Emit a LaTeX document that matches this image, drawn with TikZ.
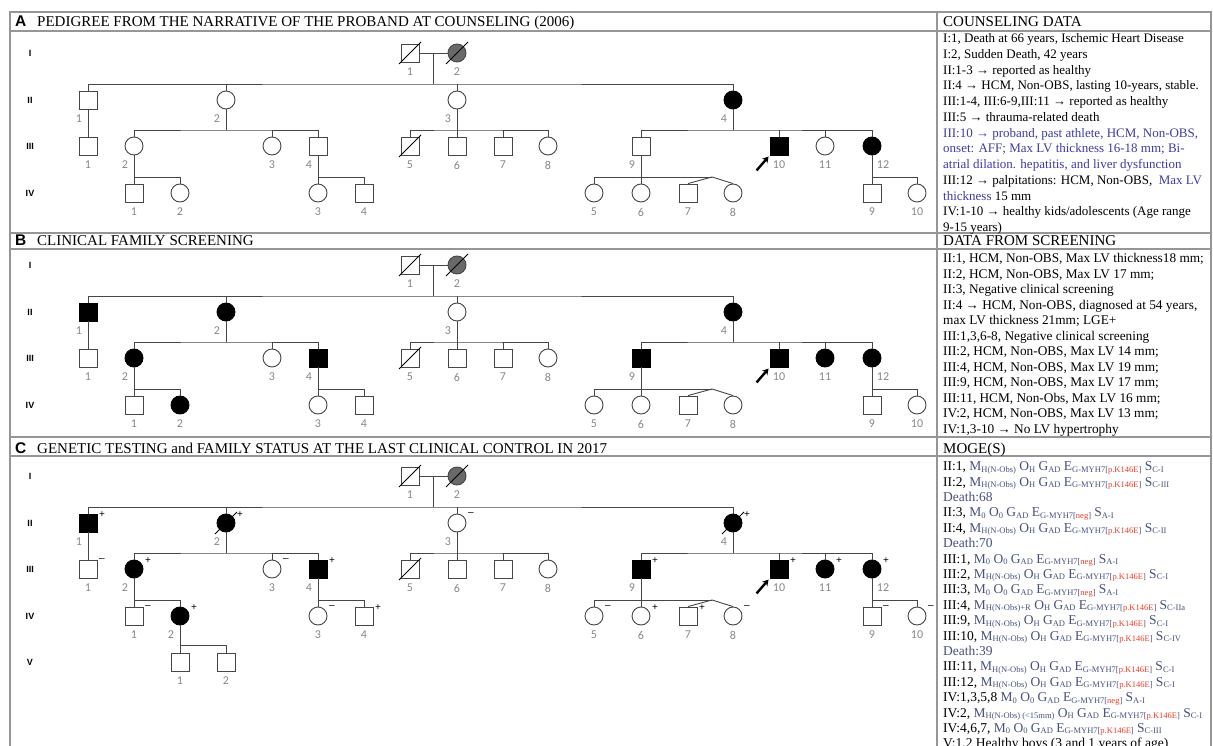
\documentclass[tikz,border=0pt]{standalone}
\usepackage{fontspec}
\setmainfont{Liberation Serif}
\setsansfont{Liberation Sans}
\newfontfamily\numfont{Carlito}
\usetikzlibrary{arrows.meta,calc}

\definecolor{pedline}{RGB}{70,70,70}
\definecolor{rulegray}{RGB}{150,150,150}
\definecolor{lblgray}{RGB}{135,135,135}
\definecolor{grandma}{RGB}{105,105,105}
\definecolor{noteblue}{RGB}{60,60,165}
\definecolor{mogeblue}{RGB}{70,80,125}
\definecolor{mutred}{RGB}{230,60,40}

% subscripts of the MOGE(S) notation
\newcommand{\sbx}[1]{\raisebox{-0.25ex}{\fontsize{8.5}{9}\selectfont #1}}
\newcommand{\moge}[5]{\textcolor{mogeblue}{M\sbx{#1} O\sbx{#2} G\sbx{#3} E\sbx{#4} S\sbx{#5}}}
\newcommand{\mutK}{[\textcolor{mutred}{p.K146E}]}
\newcommand{\mutN}{[\textcolor{mutred}{neg}]}

% the family tree shared by the three panels (#1 = panel prefix)
\newcommand{\pedtree}[1]{%
  % ── generation labels ──
  \node[gen] (#1-gI)   at (30,53)  {I};
  \node[gen] (#1-gII)  at (30,100) {II};
  \node[gen] (#1-gIII) at (30,146) {III};
  \node[gen] (#1-gIV)  at (30,193) {IV};

  % ── generation I ──
  \node[male, dec, num=1] (#1-I-1) at (410,53) {};
  \node[female, dec, fill=grandma, num=2] (#1-I-2) at (457,53) {};

  % ── generation II ──
  \node[male, numl=1, II-1]        (#1-II-1) at (88,100)  {};
  \node[female, numl=2, II-2]      (#1-II-2) at (226,100) {};
  \node[female, numl=3, II-3]      (#1-II-3) at (457,100) {};
  \node[female, aff, numl=4, II-4] (#1-II-4) at (733,100) {};

  % ── generation III ──
  \node[male, num=1, III-1]    (#1-III-1) at (88,146)  {};
  \node[female, numl=2, III-2] (#1-III-2) at (134,146) {};
  \node[female, num=3, III-3]  (#1-III-3) at (272,146) {};
  \node[male, numl=4, III-4]   (#1-III-4) at (318,146) {};
  \node[male, dec, num=5]      (#1-III-5) at (410,146) {};
  \node[male, num=6]           (#1-III-6) at (457,146) {};
  \node[male, num=7]           (#1-III-7) at (503,146) {};
  \node[female, num=8]         (#1-III-8) at (548,146) {};
  \node[male, numl=9, III-9]   (#1-III-9) at (641,146) {};
  \node[male, aff, num=10, III-10]     (#1-III-10) at (779,146) {};
  \node[female, num=11, III-11]        (#1-III-11) at (825,146) {};
  \node[female, aff, numr=12, III-12]  (#1-III-12) at (872,146) {};

  % ── generation IV ──
  \node[male, num=1, IV-1]     (#1-IV-1)  at (134,193) {};
  \node[female, IV-2]          (#1-IV-2)  at (180,193) {};
  \node[female, num=3, IV-3]   (#1-IV-3)  at (318,193) {};
  \node[male, num=4, IV-4]     (#1-IV-4)  at (364,193) {};
  \node[female, num=5, IV-5]   (#1-IV-5)  at (594,193) {};
  \node[female, num=6, IV-6]   (#1-IV-6)  at (641,193) {};
  \node[male, num=7, IV-7]     (#1-IV-7)  at (688,193) {};
  \node[female, num=8, IV-8]   (#1-IV-8)  at (733,193) {};
  \node[male, num=9, IV-9]     (#1-IV-9)  at (872,193) {};
  \node[female, num=10, IV-10] (#1-IV-10) at (917,193) {};

  % ── I -> II ──
  \coordinate (#1-mI) at (433,53);
  \coordinate (#1-sI) at (433,84);
  \draw[ln] (#1-I-1) -- (#1-I-2);
  \draw[ln] (#1-mI) -- (#1-sI);
  \draw[ln] (#1-II-1.north) |- (#1-sI) -| (#1-II-4.north);
  \draw[ln] (#1-II-2.north) -- (#1-II-2.north |- #1-sI);
  \draw[ln] (#1-II-3.north) -- (#1-II-3.north |- #1-sI);

  % ── II -> III ──
  \draw[ln] (#1-II-1) -- (#1-III-1);
  \coordinate (#1-sII2) at (226,130);
  \draw[ln] (#1-II-2) -- (#1-sII2);
  \draw[ln] (#1-III-2.north) |- (#1-sII2) -| (#1-III-4.north);
  \draw[ln] (#1-III-3.north) -- (#1-III-3.north |- #1-sII2);
  \coordinate (#1-sII3) at (457,130);
  \draw[ln] (#1-II-3) -- (#1-III-6);
  \draw[ln] (#1-III-5.north) |- (#1-sII3) -| (#1-III-8.north);
  \draw[ln] (#1-III-7.north) -- (#1-III-7.north |- #1-sII3);
  \coordinate (#1-sII4) at (733,130);
  \draw[ln] (#1-II-4) -- (#1-sII4);
  \draw[ln] (#1-III-9.north) |- (#1-sII4) -| (#1-III-12.north);
  \draw[ln] (#1-III-10.north) -- (#1-III-10.north |- #1-sII4);
  \draw[ln] (#1-III-11.north) -- (#1-III-11.north |- #1-sII4);

  % ── III -> IV ──
  \coordinate (#1-sIII2) at (134,177);
  \draw[ln] (#1-III-2) -- (#1-IV-1);
  \draw[ln] (#1-IV-2.north) |- (#1-sIII2);
  \coordinate (#1-sIII4) at (318,177);
  \draw[ln] (#1-III-4) -- (#1-IV-3);
  \draw[ln] (#1-IV-4.north) |- (#1-sIII4);
  \coordinate (#1-tw) at (712,177);
  \draw[ln] (#1-III-9) -- (#1-IV-6);
  \draw[ln] (#1-IV-5.north) |- (#1-tw);
  \draw[ln] (#1-IV-7.north) -- (#1-tw) -- (#1-IV-8.north);
  \coordinate (#1-sIII12) at (872,177);
  \draw[ln] (#1-III-12) -- (#1-IV-9);
  \draw[ln] (#1-IV-10.north) |- (#1-sIII12);

  % ── proband ──
  \coordinate (#1-pb) at ($(#1-III-10.south west)+(-13pt,-15pt)$);
  \draw[probarr] (#1-pb) -- (#1-III-10.south west);
}

\begin{document}
\begin{tikzpicture}[x=1pt, y=-1pt,
    ln/.style={draw=pedline, line width=0.9pt},
    rule/.style={draw=rulegray, line width=1.2pt},
    male/.style={rectangle, draw=pedline, line width=0.9pt, fill=white,
      minimum size=18pt, inner sep=0pt},
    female/.style={circle, draw=pedline, line width=0.9pt, fill=white,
      minimum size=18pt, inner sep=0pt},
    aff/.style={fill=black, draw=black},
    dec/.style={append after command={
      ($(\tikzlastnode.center)+(-11pt,-11pt)$) edge[ln, draw=black]
      ($(\tikzlastnode.center)+(11pt,11pt)$)}},
    lbl/.style={font=\numfont\fontsize{12}{12}\selectfont, text=lblgray,
      inner sep=0.5pt, yshift=-5pt},
    num/.style={label={[lbl]below:#1}},
    numl/.style={label={[lbl, xshift=-9pt]below:#1}},
    numr/.style={label={[lbl, xshift=11pt]below:#1}},
    sgn/.style={font=\sffamily\fontsize{10}{10}\selectfont, inner sep=0pt,
      anchor=center, xshift=14pt, yshift=-1pt},
    plus/.style={label={[sgn]90:+}},
    minus/.style={label={[sgn]90:\textendash}},
    gen/.style={font=\sffamily\bfseries\fontsize{9}{9}\selectfont, inner sep=0pt},
    probarr/.style={-{Stealth[length=6pt, width=7pt]}, line width=2.4pt,
      shorten >=1.5pt},
    hdrkey/.style={font=\sffamily\bfseries\fontsize{15.5}{15.5}\selectfont,
      anchor=base west, inner sep=0pt},
    hdr/.style={font=\fontsize{15}{15}\selectfont, anchor=base west, inner sep=0pt},
    notes/.style={align=left, anchor=north west, inner sep=0pt},
    % per-person extras, empty unless a panel sets them
    ind/.style={#1/.style={}},
    ind/.list={II-1,II-2,II-3,II-4,III-1,III-2,III-3,III-4,III-9,III-10,
      III-11,III-12,IV-1,IV-3,IV-4,IV-5,IV-6,IV-7,IV-8,IV-9,IV-10},
    IV-2/.style={num=2}
  ]
  \useasboundingbox (0,0) rectangle (1213,746);

  % ── table frame ──
  \draw[rule] (10,12) rectangle (1211,760);
  \draw[rule] (937,12) -- (937,746);
  \draw[rule] (10,31) -- (1211,31);
  \draw[rule] (10,233) -- (1211,233);
  \draw[rule] (10,249) -- (1211,249);
  \draw[rule] (10,437) -- (1211,437);
  \draw[rule] (10,456) -- (1211,456);

  % ── panel headers ──
  \node[hdrkey] (A-key) at (15,26.5) {A};
  \node[hdr] (A-title) at (37,26.5) {PEDIGREE FROM THE NARRATIVE OF THE PROBAND AT COUNSELING (2006)};
  \node[hdrkey] (B-key) at (15,246) {B};
  \node[hdr] (B-title) at (37,246) {CLINICAL FAMILY SCREENING};
  \node[hdrkey] (C-key) at (15,453) {C};
  \node[hdr] (C-title) at (37,453) {GENETIC TESTING and FAMILY STATUS AT THE LAST CLINICAL CONTROL IN 2017};
  \node[hdr] (A-head) at (943,26.5) {COUNSELING DATA};
  \node[hdr] (B-head) at (943,246) {DATA FROM SCREENING};
  \node[hdr] (C-head) at (943,453) {MOGE(S)};

  % ── Panel A ──
  \begin{scope}
    \pedtree{A}
  \end{scope}

  % ── Panel B ──
  \begin{scope}[shift={(0,212)},
      II-1/.style={aff}, II-2/.style={aff}, III-2/.style={aff},
      III-4/.style={aff}, III-9/.style={aff}, III-11/.style={aff},
      IV-2/.style={aff, num=2}]
    \pedtree{B}
  \end{scope}

  % ── Panel C ──
  \begin{scope}[shift={(0,423)},
      II-1/.style={aff, plus}, II-2/.style={aff, dec, plus},
      II-3/.style={minus}, II-4/.style={dec, plus},
      III-1/.style={minus}, III-2/.style={aff, plus}, III-3/.style={minus},
      III-4/.style={aff, plus}, III-9/.style={aff, plus}, III-10/.style={plus},
      III-11/.style={aff, plus}, III-12/.style={plus},
      IV-1/.style={minus}, IV-2/.style={aff, numl=2, plus}, IV-3/.style={minus},
      IV-4/.style={plus}, IV-5/.style={minus}, IV-6/.style={plus},
      IV-7/.style={plus}, IV-8/.style={minus}, IV-9/.style={minus},
      IV-10/.style={minus}]
    \pedtree{C}
    \node[gen] (C-gV) at (30,239) {V};
    \node[male, num=1] (C-V-1) at (180,239) {};
    \node[male, num=2] (C-V-2) at (226,239) {};
    \coordinate (C-sIV2) at (180,222);
    \draw[ln] (C-IV-2) -- (C-V-1);
    \draw[ln] (C-V-2.north) |- (C-sIV2);
  \end{scope}

  % ── right column notes ──
  \node[notes, font=\fontsize{13}{15.75}\selectfont] (A-notes) at (943,33.5) {%
    I:1, Death at 66 years, Ischemic Heart Disease\\
    I:2, Sudden Death, 42 years\\
    II:1-3 → reported as healthy\\
    II:4 → HCM, Non-OBS, lasting 10-years, stable.\\
    III:1-4, III:6-9,III:11 → reported as healthy\\
    III:5 → thrauma-related death\\
    \textcolor{noteblue}{III:10 → proband, past athlete, HCM, Non-OBS,}\\
    \textcolor{noteblue}{onset: AFF; Max LV thickness 16-18 mm; Bi-}\\
    \textcolor{noteblue}{atrial dilation. hepatitis, and liver dysfunction}\\
    III:12 → palpitations: HCM, Non-OBS, \ \textcolor{noteblue}{Max LV}\\
    \textcolor{noteblue}{thickness} 15 mm\\
    IV:1-10 → healthy kids/adolescents (Age range\\
    9-15 years)};

  \node[notes, font=\fontsize{13.3}{15.5}\selectfont] (B-notes) at (943,253.5) {%
    II:1, HCM, Non-OBS, Max LV thickness18 mm;\\
    II:2, HCM, Non-OBS, Max LV 17 mm;\\
    II:3, Negative clinical screening\\
    II:4 → HCM, Non-OBS, diagnosed at 54 years,\\
    max LV thickness 21mm; LGE+\\
    III:1,3,6-8, Negative clinical screening\\
    III:2, HCM, Non-OBS, Max LV 14 mm;\\
    III:4, HCM, Non-OBS, Max LV 19 mm;\\
    III:9, HCM, Non-OBS, Max LV 17 mm;\\
    III:11, HCM, Non-Obs, Max LV 16 mm;\\
    IV:2, HCM, Non-OBS, Max LV 13 mm;\\
    IV:1,3-10 → No LV hypertrophy};

  \node[notes, font=\fontsize{13.5}{15.4}\selectfont] (C-notes) at (943,461.5) {%
    II:1, \moge{H(N-Obs)}{H}{AD}{G-MYH7\mutK}{C-I}\\
    II:2, \moge{H(N-Obs)}{H}{AD}{G-MYH7\mutK}{C-III}\\
    \textcolor{mogeblue}{Death:68}\\
    II:3, \moge{0}{0}{AD}{G-MYH7\mutN}{A-I}\\
    II:4, \moge{H(N-Obs)}{H}{AD}{G-MYH7\mutK}{C-II}\\
    \textcolor{mogeblue}{Death:70}\\
    III:1, \moge{0}{0}{AD}{G-MYH7\mutN}{A-I}\\
    III:2, \moge{H(N-Obs)}{H}{AD}{G-MYH7\mutK}{C-I}\\
    III:3, \moge{0}{0}{AD}{G-MYH7\mutN}{A-I}\\
    III:4, \moge{H(N-Obs)+R}{H}{AD}{G-MYH7\mutK}{C-IIa}\\
    III:9, \moge{H(N-Obs)}{H}{AD}{G-MYH7\mutK}{C-I}\\
    III:10, \moge{H(N-Obs)}{H}{AD}{G-MYH7\mutK}{C-IV}\\
    \textcolor{mogeblue}{Death:39}\\
    III:11, \moge{H(N-Obs)}{H}{AD}{G-MYH7\mutK}{C-I}\\
    III:12, \moge{H(N-Obs)}{H}{AD}{G-MYH7\mutK}{C-I}\\
    IV:1,3,5,8 \moge{0}{0}{AD}{G-MYH7\mutN}{A-I}\\
    IV:2, \moge{H(N-Obs) (<15mm)}{H}{AD}{G-MYH7\mutK}{C-I}\\
    IV:4,6,7, \moge{0}{0}{AD}{G-MYH7\mutK}{C-III}\\
    V:1,2 Healthy boys (3 and 1 years of age)};
\end{tikzpicture}
\end{document}
